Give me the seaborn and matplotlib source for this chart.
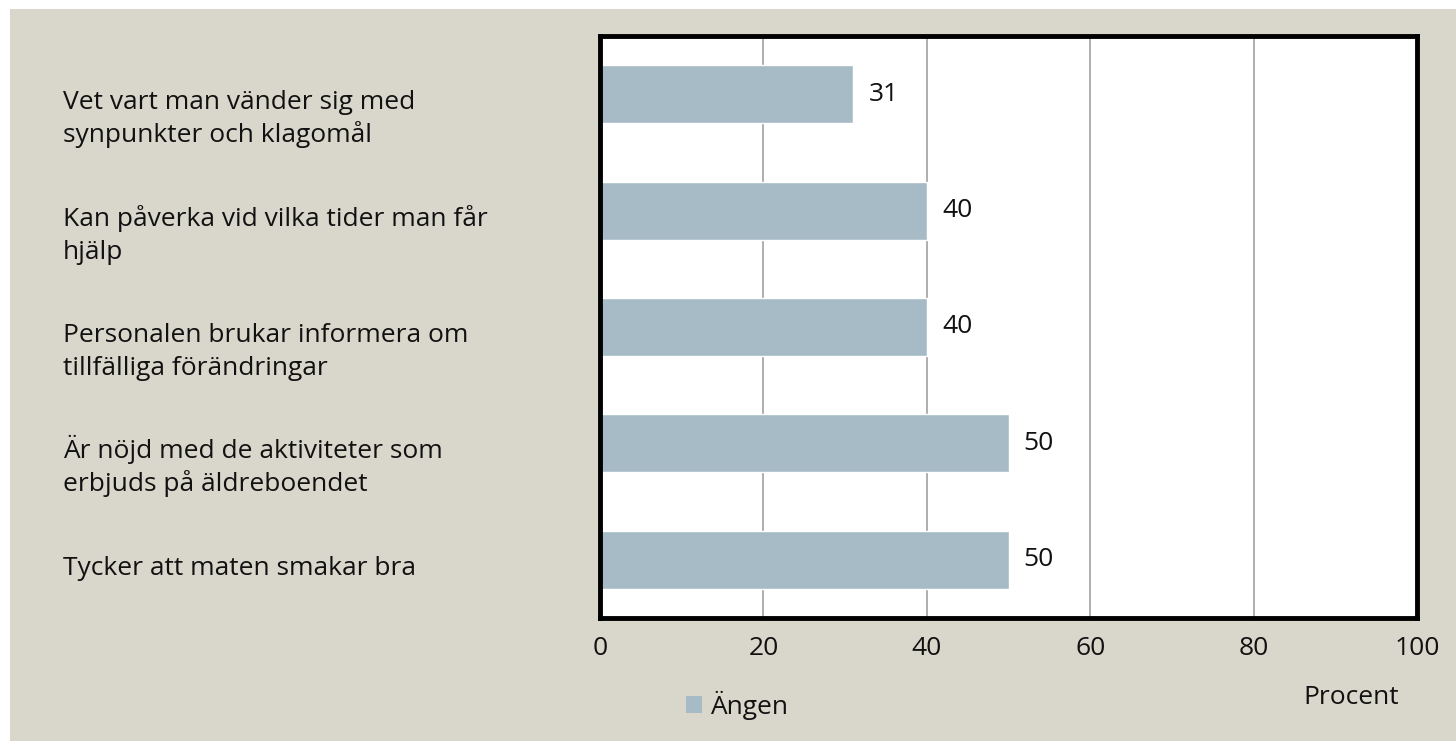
import matplotlib
matplotlib.use("Agg")
import matplotlib.pyplot as plt
from matplotlib.patches import Rectangle, Patch
import matplotlib.transforms as mtrans
import seaborn as sns
import pandas as pd

categories = [
    "Vet vart man vänder sig med\nsynpunkter och klagomål",
    "Kan påverka vid vilka tider man får\nhjälp",
    "Personalen brukar informera om\ntillfälliga förändringar",
    "Är nöjd med de aktiviteter som\nerbjuds på äldreboendet",
    "Tycker att maten smakar bra",
]
values = [31, 40, 40, 50, 50]
series_name = "Ängen"
x_ticks = [0, 20, 40, 60, 80, 100]
x_label = "Procent"

sns.set_theme(style="white")
plt.rcParams["font.family"] = ["Open Sans", "DejaVu Sans"]
FS = 19
TXT = "#111111"

W, H, DPI = 1456, 741, 100
fig = plt.figure(figsize=(W / DPI, H / DPI), dpi=DPI)
fig.patch.set_facecolor("white")
fig.patches.append(Rectangle((10 / W, 0), 1 - 10 / W, 1 - 9 / H, transform=fig.transFigure,
                             facecolor="#d9d7cb", edgecolor="none", zorder=-10))

ax = fig.add_axes([600 / W, 1 - 618 / H, (1417 - 600) / W, (618 - 36) / H])
ax.set_facecolor("white")

df = pd.DataFrame({"cat": categories, "val": values})
bar_color = "#a7bbc6"
sns.barplot(data=df, x="val", y="cat", orient="h", color=bar_color, width=0.5,
            saturation=1, ax=ax, zorder=2)

ax.set_xlim(0, 100)
ax.set_xticks(x_ticks)
ax.set_xticklabels([str(t) for t in x_ticks], fontsize=FS, color=TXT)
ax.set_yticklabels([])
ax.set_xlabel("")
ax.set_ylabel("")
ax.tick_params(axis="both", length=0)
ax.tick_params(axis="x", pad=13)
ax.grid(axis="x", color="#999999", linewidth=1.1, zorder=0)
ax.grid(axis="y", visible=False)
ax.set_axisbelow(True)
for s in ax.spines.values():
    s.set_visible(True)
    s.set_color("black")
    s.set_linewidth(3.5)

# category labels, left aligned at a fixed figure x, each line drawn separately
base = mtrans.blended_transform_factory(fig.transFigure, ax.transData)
for i, lab in enumerate(categories):
    for j, line in enumerate(lab.split("\n")):
        off = mtrans.offset_copy(base, fig=fig, x=0,
                                 y=-(15 + 33 * j) * 72 / DPI, units="points")
        fig.text(63 / W, i, line, transform=off, fontsize=FS, color=TXT,
                 ha="left", va="baseline")

# value labels
for c in ax.containers:
    ax.bar_label(c, labels=[str(v) for v in values], padding=11, fontsize=FS, color=TXT)

fig.legend(handles=[Patch(facecolor=bar_color, edgecolor="none", label=series_name)],
           loc="center left", bbox_to_anchor=(686 / W, 1 - 705 / H), frameon=False,
           fontsize=FS, handlelength=0.6, handleheight=0.6, handletextpad=0.3,
           borderpad=0, borderaxespad=0, labelcolor=TXT)
fig.text(1303 / W, 1 - 697 / H, x_label, fontsize=FS, ha="left", va="center", color=TXT)

fig.savefig("out.png", dpi=DPI)
